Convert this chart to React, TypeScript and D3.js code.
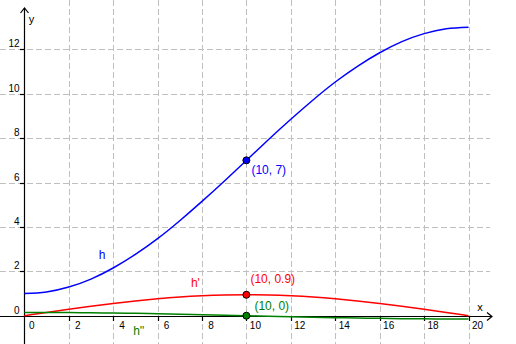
import React from "react";
import * as d3 from "d3";

const xValues = [0, 1, 2, 3, 4, 5, 6, 7, 8, 9, 10, 11, 12, 13, 14, 15, 16, 17, 18, 19, 20];
const hValues = [1, 1.07, 1.29, 1.65, 2.15, 2.76, 3.47, 4.28, 5.15, 6.06, 7, 7.94, 8.85, 9.72, 10.53, 11.24, 11.85, 12.35, 12.71, 12.93, 13];
const hPrimeValues = [0, 0.147, 0.291, 0.428, 0.554, 0.666, 0.762, 0.84, 0.896, 0.931, 0.942, 0.931, 0.896, 0.84, 0.762, 0.666, 0.554, 0.428, 0.291, 0.147, 0];
const hDoublePrimeValues = [0.148, 0.146, 0.141, 0.132, 0.12, 0.105, 0.087, 0.067, 0.046, 0.023, 0, -0.023, -0.046, -0.067, -0.087, -0.105, -0.12, -0.132, -0.141, -0.146, -0.148];

const xTicks = [0, 2, 4, 6, 8, 10, 12, 14, 16, 18, 20];
const yTicks = [0, 2, 4, 6, 8, 10, 12];
const gridX = [2, 4, 6, 8, 10, 12, 14, 16, 18, 20];
const gridY = [2, 4, 6, 8, 10, 12];

const points = [
  { x: 10, y: 7, label: "(10, 7)", color: "#0000ff" },
  { x: 10, y: 0.942, label: "(10, 0.9)", color: "#ff0000" },
  { x: 10, y: 0, label: "(10, 0)", color: "#008000" },
];
const labelOffsets = [
  { dx: 5, dy: 14 },
  { dx: 4, dy: -12 },
  { dx: 8, dy: -6 },
];

const curves = [
  { name: "h", values: hValues, color: "#0000ff", lx: 3.35, ly: 2.55 },
  { name: "h'", values: hPrimeValues, color: "#ff0000", lx: 7.5, ly: 1.3 },
  { name: "h''", values: hDoublePrimeValues, color: "#008000", lx: 4.9, ly: -0.87 },
];

const W = 516;
const H = 344;

export default function App() {
  const x = d3.scaleLinear().domain([0, 20]).range([24.3, 468.5]);
  const y = d3.scaleLinear().domain([0, 12]).range([315.7, 49.4]);
  const line = (vals: number[]) =>
    d3
      .line<number>()
      .x((_, i) => x(xValues[i]))
      .y((d) => y(d))
      .curve(d3.curveNatural)(vals) || "";

  const font = "'Liberation Sans', Arial, sans-serif";
  const axisY = y(0);
  const axisX = x(0);
  const right = 492;

  return (
    <svg
      width={W}
      height={H}
      style={{ position: "fixed", left: 0, top: 0, background: "#fff" }}
      fontFamily={font}
    >
      <rect width={W} height={H} fill="#fff" />
      {/* grid */}
      <g stroke="#c0c0c0" strokeWidth={1} strokeDasharray="6,3">
        {gridX.map((v) => (
          <line key={"gx" + v} x1={Math.round(x(v)) + 0.5} x2={Math.round(x(v)) + 0.5} y1={0} y2={H} />
        ))}
        {gridY.map((v) => (
          <line key={"gy" + v} x1={0} x2={right - 2} y1={Math.round(y(v)) + 0.5} y2={Math.round(y(v)) + 0.5} />
        ))}
      </g>
      {/* axes */}
      <g stroke="#000" strokeWidth={1.2} fill="none">
        <line x1={0} x2={right} y1={Math.round(axisY) + 0.5} y2={Math.round(axisY) + 0.5} />
        <polyline points={`${right - 5},${Math.round(axisY) - 3.5} ${right},${Math.round(axisY) + 0.5} ${right - 5},${Math.round(axisY) + 4.5}`} />
        <line x1={Math.round(axisX) + 0.5} x2={Math.round(axisX) + 0.5} y1={H} y2={8} />
        <polyline points={`${Math.round(axisX) - 3.5},${13} ${Math.round(axisX) + 0.5},${8} ${Math.round(axisX) + 4.5},${13}`} />
        {xTicks.filter((v) => v !== 0).map((v) => (
          <line key={"tx" + v} x1={Math.round(x(v)) + 0.5} x2={Math.round(x(v)) + 0.5} y1={Math.round(axisY)} y2={Math.round(axisY) + 5} />
        ))}
        {yTicks.filter((v) => v !== 0).map((v) => (
          <line key={"ty" + v} x1={Math.round(axisX) - 4} x2={Math.round(axisX) + 1} y1={Math.round(y(v)) + 0.5} y2={Math.round(y(v)) + 0.5} />
        ))}
      </g>
      {/* tick labels */}
      <g fontSize={10} fill="#000">
        {xTicks.map((v) => (
          <text key={"lx" + v} x={x(v) + (v === 0 ? 7.5 : 9)} y={329} textAnchor="middle">
            {v}
          </text>
        ))}
        {yTicks.map((v) => (
          <text key={"ly" + v} x={19.5} y={y(v) - 2} textAnchor="end">
            {v}
          </text>
        ))}
        <text x={480} y={311} textAnchor="middle" fontSize={11}>x</text>
        <text x={31.5} y={23} textAnchor="middle" fontSize={11}>y</text>
      </g>
      {/* curves */}
      {curves.map((c) => (
        <path key={c.name} d={line(c.values)} fill="none" stroke={c.color} strokeWidth={1.5} />
      ))}
      {curves.map((c) => (
        <text key={"n" + c.name} x={x(c.lx)} y={y(c.ly)} fill={c.color} fontSize={12}>
          {c.name}
        </text>
      ))}
      {/* points */}
      {points.map((p, i) => (
        <g key={p.label}>
          <circle cx={x(p.x)} cy={y(p.y)} r={3.5} fill={p.color} stroke="#000" strokeWidth={1} />
          <text x={x(p.x) + labelOffsets[i].dx} y={y(p.y) + labelOffsets[i].dy} fill={p.color} fontSize={12}>
            {p.label}
          </text>
        </g>
      ))}
    </svg>
  );
}
